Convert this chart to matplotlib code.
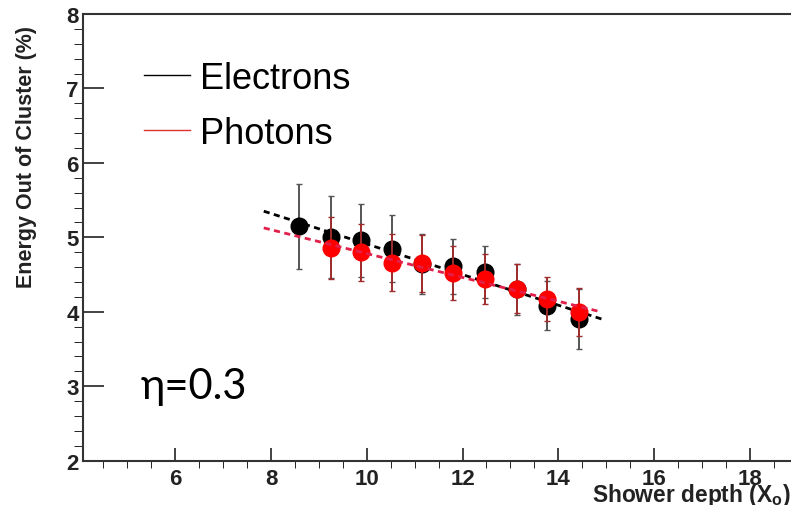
import numpy as np
import matplotlib
matplotlib.use("Agg")
import matplotlib.pyplot as plt

# Electrons (black)
ele_x = [8.58, 9.25, 9.88, 10.52, 11.16, 11.80, 12.46, 13.14, 13.77, 14.44]
ele_y = [5.15, 5.00, 4.96, 4.85, 4.64, 4.61, 4.53, 4.30, 4.08, 3.90]
ele_err = [0.57, 0.55, 0.49, 0.45, 0.40, 0.37, 0.35, 0.34, 0.33, 0.40]

# Photons (red)
pho_x = [9.25, 9.88, 10.52, 11.16, 11.80, 12.46, 13.14, 13.77, 14.44]
pho_y = [4.86, 4.80, 4.66, 4.65, 4.52, 4.44, 4.31, 4.17, 4.00]
pho_err = [0.42, 0.38, 0.38, 0.38, 0.36, 0.34, 0.33, 0.30, 0.32]

fit_range = [7.85, 14.9]
labels = ["Electrons", "Photons"]

W, H = 791, 506
fig = plt.figure(figsize=(W / 100, H / 100), dpi=100)
left, bottom = 82.7 / W, 1 - 461.7 / H
top = 1 - 15 / H
xlim = (4.07, 20.0)
width = (xlim[1] - xlim[0]) * 47.9 / W
ax = fig.add_axes([left, bottom, width, top - bottom])

tick_font = {"family": "Liberation Sans", "weight": "bold", "size": 16}

# fits
xf = np.linspace(fit_range[0], fit_range[1], 50)
pe = np.polyfit(ele_x, ele_y, 1)
pp = np.polyfit(pho_x, pho_y, 1)

ax.errorbar(ele_x, ele_y, yerr=ele_err, fmt="o", color="black", ms=12,
            ecolor="#555555", elinewidth=1.4, capsize=2.5, zorder=3)
ax.plot(xf, np.polyval(pe, xf), ls=(0, (2.2, 1.6)), color="black", lw=2.0, zorder=4)
ax.errorbar(pho_x, pho_y, yerr=pho_err, fmt="o", color="#ff0000", ms=12,
            ecolor="#a02c2c", elinewidth=1.4, capsize=2.5, zorder=5)
ax.plot(xf, np.polyval(pp, xf), ls=(0, (2.2, 1.6)), color="#e0204a", lw=2.0, zorder=6)

# legend handles
h1, = ax.plot([], [], color="black", lw=1)
h2, = ax.plot([], [], color="#e03030", lw=1)
leg = ax.legend([h1, h2], labels, loc="upper left", bbox_to_anchor=(0.062, 0.927),
                frameon=False, handlelength=1.25, handletextpad=0.3,
                labelspacing=0.55, borderaxespad=0,
                prop={"family": "Liberation Sans", "size": 26})

ax.text(5.27, 2.84, "η=0.3", fontsize=30, family=["Lato", "DejaVu Sans"],
        ha="left", va="baseline")

ax.set_xlim(*xlim)
ax.set_ylim(2, 8)
ax.set_xticks([6, 8, 10, 12, 14, 16, 18])
ax.set_xticks(np.arange(4.5, 20, 0.5), minor=True)
ax.set_yticks([2, 3, 4, 5, 6, 7, 8])
ax.set_yticks(np.arange(2, 8, 0.2), minor=True)
ax.tick_params(axis="both", direction="in", colors="#222222", width=1.2)
ax.tick_params(axis="x", which="major", length=9.5, pad=5)
ax.tick_params(axis="x", which="minor", length=5)
ax.tick_params(axis="y", which="major", length=15, pad=3)
ax.tick_params(axis="y", which="minor", length=6.5)
for lab in ax.get_xticklabels() + ax.get_yticklabels():
    lab.set_fontproperties(matplotlib.font_manager.FontProperties(**tick_font))
    lab.set_color("#222222")

for s in ["left", "bottom", "top"]:
    ax.spines[s].set_linewidth(1.5)
    ax.spines[s].set_color("#333333")
ax.spines["right"].set_visible(False)

ax.set_ylabel("Energy Out of Cluster (%)", family="Liberation Sans", weight="bold",
              fontsize=15.5, color="#222222")
ax.yaxis.set_label_coords(-0.074, 0.975)
ax.yaxis.label.set_ha("right")
ax.yaxis.label.set_va("center")
ax.set_xlabel("Shower depth (X$_\\mathregular{o}$)", family="Liberation Sans",
              weight="bold", fontsize=16.4, color="#222222")
ax.xaxis.set_label_coords(0.667, -0.045)
ax.xaxis.label.set_ha("left")

fig.savefig("out.png", dpi=100)
